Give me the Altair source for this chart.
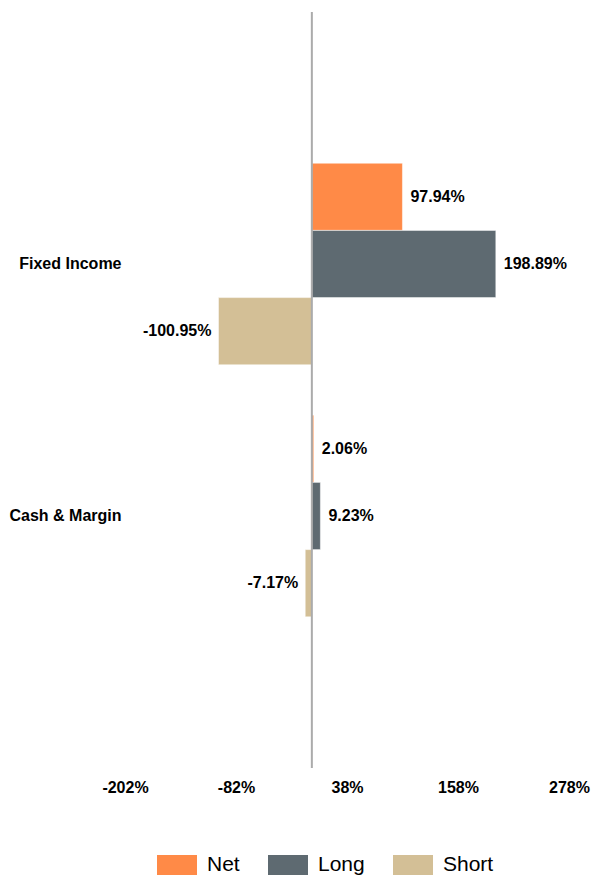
import altair as alt
import pandas as pd

categories = ["Fixed Income", "Cash & Margin"]
series = ["Net", "Long", "Short"]
net = [97.94, 2.06]
long_ = [198.89, 9.23]
short = [-100.95, -7.17]
x_ticks = [-202, -82, 38, 158, 278]
colors = ["#FF8A47", "#5E6A71", "#D3BF96"]

rows = []
for i, c in enumerate(categories):
    for s, vals in zip(series, [net, long_, short]):
        rows.append({"category": c, "series": s, "value": vals[i]})
df = pd.DataFrame(rows)

FONT = "Liberation Sans"

y_enc = alt.Y("category:N", sort=categories, title=None,
              scale=alt.Scale(paddingInner=0.2, paddingOuter=0.6),
              axis=alt.Axis(domain=False, ticks=False, labelFont=FONT, labelFontSize=16,
                            labelFontWeight="bold", labelColor="#000", labelPadding=4))
yoff = alt.YOffset("series:N", sort=series, scale=alt.Scale(paddingInner=0, paddingOuter=0))
x_enc = alt.X("value:Q", title=None,
              scale=alt.Scale(domain=[-202, 278], nice=False, zero=False),
              axis=alt.Axis(values=x_ticks, labelExpr="datum.value + '%'", domain=False, ticks=False,
                            grid=False, labelFlush=False, labelFont=FONT, labelFontSize=16,
                            labelFontWeight="bold", labelColor="#000", labelPadding=11))

base = alt.Chart(df).encode(y=y_enc, yOffset=yoff)

bars = base.mark_bar(stroke="white", strokeWidth=0.5).encode(
    x=x_enc,
    x2=alt.X2(datum=0),
    color=alt.Color("series:N", sort=series,
                    scale=alt.Scale(domain=series, range=colors),
                    legend=alt.Legend(title=None, orient="none", direction="horizontal",
                                      legendX=32, legendY=833,
                                      symbolType="M-1,-0.5H1V0.5H-1Z", symbolSize=1600,
                                      symbolStrokeWidth=0, labelFont=FONT, labelFontSize=21,
                                      labelColor="#000", labelOffset=10, columnPadding=28)),
)

labels = base.transform_calculate(
    label="(datum.value < 0 ? '-' : '') + format(abs(datum.value), '.2f') + '%'"
)
pos_text = labels.transform_filter("datum.value >= 0").mark_text(
    align="left", baseline="middle", dx=8, font=FONT, fontSize=16, fontWeight="bold", color="#000"
).encode(x=alt.X("value:Q"), text="label:N")
neg_text = labels.transform_filter("datum.value < 0").mark_text(
    align="right", baseline="middle", dx=-7, font=FONT, fontSize=16, fontWeight="bold", color="#000"
).encode(x=alt.X("value:Q"), text="label:N")

zero = alt.Chart(pd.DataFrame({"z": [0]})).mark_rule(color="#ABABAB", strokeWidth=2).encode(
    x=alt.X("z:Q")
)

chart = alt.layer(bars, pos_text, neg_text, zero).properties(
    width=444, height=756,
    background="white",
    autosize=alt.AutoSizeParams(type="none"),
    padding={"left": 125, "top": 12, "right": 24, "bottom": 107},
).configure_view(strokeWidth=0, stroke="transparent")

chart.save("out.html", embed_options={"renderer": "svg", "actions": False})
